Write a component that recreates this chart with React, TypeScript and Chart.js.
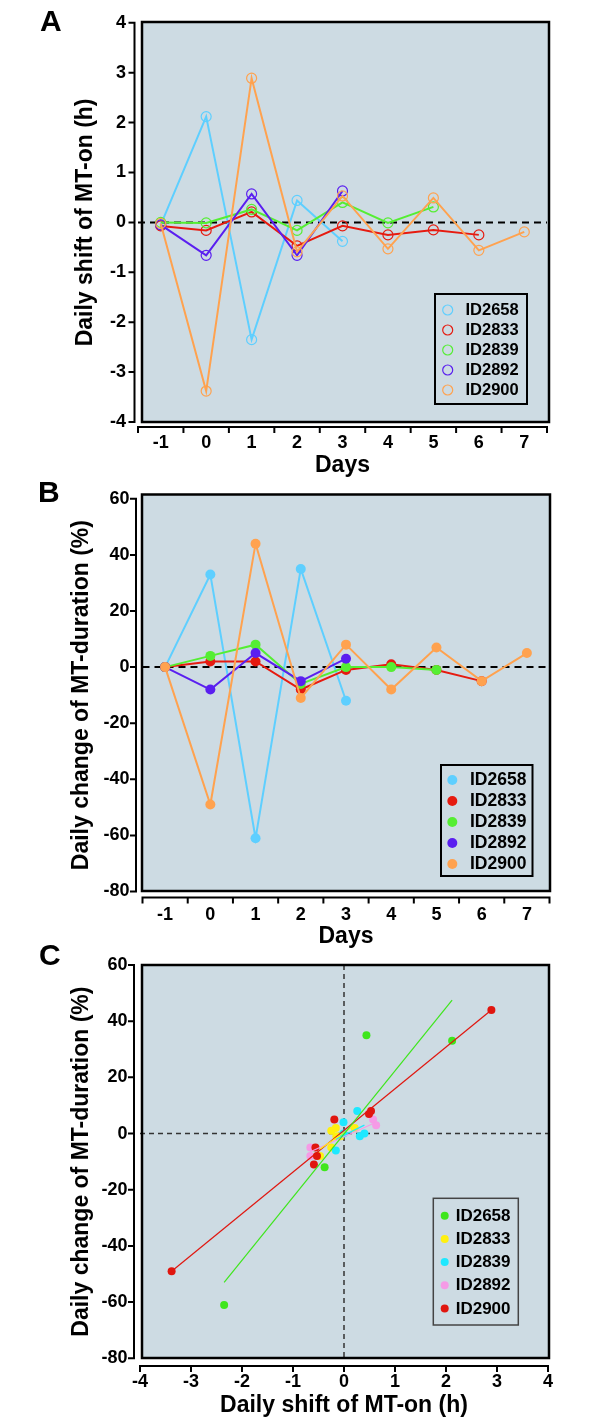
import React, { useEffect, useRef } from "react";
import { Chart, registerables } from "chart.js";

Chart.register(...registerables);

// ---------------- data ----------------
const days = ["-1", "0", "1", "2", "3", "4", "5", "6", "7"];
const subjects = ["ID2658", "ID2833", "ID2839", "ID2892", "ID2900"];

// Panel A: daily shift of MT-on (h), day -1 onwards
const shift2658 = [-0.05, 2.12, -2.35, 0.44, -0.38];
const shift2833 = [-0.07, -0.16, 0.21, -0.47, -0.07, -0.25, -0.15, -0.25];
const shift2839 = [0.0, -0.01, 0.26, -0.16, 0.4, -0.01, 0.31];
const shift2892 = [-0.05, -0.66, 0.57, -0.66, 0.63];
const shift2900 = [-0.02, -3.38, 2.89, -0.59, 0.53, -0.53, 0.49, -0.56, -0.19];

// Panel B: daily change of MT-duration (%), day -1 onwards
const change2658 = [0, 33, -61, 35, -12];
const change2833 = [0, 2, 2, -8, -1, 1, -1, -5];
const change2839 = [0, 4, 8, -6, 0, 0, -1];
const change2892 = [0, -8, 5, -5, 3];
const change2900 = [0, -49, 44, -11, 8, -8, 7, -5, 5];

// Panel C: regression line end points (shift h, change %)
const fitX2658 = [-2.35, 2.12];
const fitY2658 = [-53, 47.5];
const fitX2833 = [-0.47, 0.21];
const fitY2833 = [-5.5, 3];
const fitX2839 = [-0.16, 0.4];
const fitY2839 = [-2, 3];
const fitX2892 = [-0.66, 0.63];
const fitY2892 = [-6.5, 4];
const fitX2900 = [-3.38, 2.89];
const fitY2900 = [-49, 44];

// axis ranges
const shiftRange = [-4, 4];
const shiftStep = 1;
const changeRange = [-80, 60];
const changeStep = 20;

// ---------------- styles ----------------
const FONT = "'Liberation Sans', Arial, Helvetica, sans-serif";
const BG = "#cddbe3";
const colorsAB = ["#5ecfff", "#e61b10", "#55ee33", "#5a1ff0", "#ffa24f"];
const colorsC = ["#3ee61c", "#fff010", "#1ee8ff", "#f59be6", "#e0160f"];

const shiftSeries = [shift2658, shift2833, shift2839, shift2892, shift2900];
const changeSeries = [change2658, change2833, change2839, change2892, change2900];
const fitXs = [fitX2658, fitX2833, fitX2839, fitX2892, fitX2900];
const fitYs = [fitY2658, fitY2833, fitY2839, fitY2892, fitY2900];

type Box = { left: number; right: number; top: number; bottom: number };
type Panel = {
  letter: string;
  letterX: number;
  letterBaseline: number;
  canvasTop: number;
  canvasHeight: number;
  area: Box;
  box: Box;
  yAxisX: number;
  xAxisY: number;
  yLabelRight: number;
  xLabelY: number;
  yTitleX: number;
  xTitleY: number;
  xTitle: string;
  yTitle: string;
  kind: "A" | "B" | "C";
  legend: {
    box: Box;
    row0: number;
    step: number;
    markerX: number;
    textX: number;
    r: number;
    hollow: boolean;
    fontSize: number;
    borderWidth: number;
    borderColor: string;
    colors: string[];
  };
  zero: { color: string; width: number; dash: number[]; vertical: boolean };
  boxWidth: number;
};

const panels: Panel[] = [
  {
    kind: "A",
    letter: "A",
    letterX: 40,
    letterBaseline: 31,
    canvasTop: 0,
    canvasHeight: 480,
    area: { left: 138, right: 547, top: 22, bottom: 422 },
    box: { left: 142, right: 549, top: 22, bottom: 422 },
    yAxisX: 134.5,
    xAxisY: 427,
    yLabelRight: 126,
    xLabelY: 443.5,
    yTitleX: 86,
    xTitleY: 465.5,
    xTitle: "Days",
    yTitle: "Daily shift of MT-on (h)",
    legend: {
      box: { left: 435, right: 527, top: 294, bottom: 404 },
      row0: 310,
      step: 20,
      markerX: 447.7,
      textX: 465.5,
      r: 5,
      hollow: true,
      fontSize: 16.5,
      borderWidth: 2,
      borderColor: "#000",
      colors: colorsAB,
    },
    zero: { color: "#000", width: 2, dash: [7, 5], vertical: false },
    boxWidth: 2.5,
  },
  {
    kind: "B",
    letter: "B",
    letterX: 38,
    letterBaseline: 501.5,
    canvasTop: 475,
    canvasHeight: 480,
    area: { left: 142.5, right: 549.5, top: 494.5, bottom: 891.5 },
    box: { left: 142, right: 550, top: 494.5, bottom: 891 },
    yAxisX: 136,
    xAxisY: 897.5,
    yLabelRight: 129.5,
    xLabelY: 915,
    yTitleX: 81.7,
    xTitleY: 937,
    xTitle: "Days",
    yTitle: "Daily change of MT-duration (%)",
    legend: {
      box: { left: 441, right: 532.5, top: 765, bottom: 876 },
      row0: 780,
      step: 21,
      markerX: 452.3,
      textX: 470,
      r: 5,
      hollow: false,
      fontSize: 17.5,
      borderWidth: 2,
      borderColor: "#000",
      colors: colorsAB,
    },
    zero: { color: "#000", width: 2, dash: [7, 5], vertical: false },
    boxWidth: 2.5,
  },
  {
    kind: "C",
    letter: "C",
    letterX: 39,
    letterBaseline: 965,
    canvasTop: 930,
    canvasHeight: 493,
    area: { left: 140, right: 548, top: 965, bottom: 1358.3 },
    box: { left: 142, right: 549, top: 965, bottom: 1358 },
    yAxisX: 134,
    xAxisY: 1366,
    yLabelRight: 127.5,
    xLabelY: 1381.7,
    yTitleX: 81.5,
    xTitleY: 1405.5,
    xTitle: "Daily shift of MT-on (h)",
    yTitle: "Daily change of MT-duration (%)",
    legend: {
      box: { left: 433.3, right: 518.3, top: 1198.3, bottom: 1325 },
      row0: 1215.7,
      step: 23.2,
      markerX: 444.7,
      textX: 455.7,
      r: 4,
      hollow: false,
      fontSize: 17,
      borderWidth: 1.5,
      borderColor: "#444",
      colors: colorsC,
    },
    zero: { color: "#333", width: 1.5, dash: [5, 4], vertical: true },
    boxWidth: 2.5,
  },
];

function makePlugin(p: Panel) {
  const T = p.canvasTop;
  return {
    id: "deco" + p.letter,
    beforeDraw(chart: any) {
      const ctx = chart.ctx;
      ctx.save();
      ctx.fillStyle = BG;
      ctx.fillRect(p.box.left, p.box.top - T, p.box.right - p.box.left, p.box.bottom - p.box.top);
      ctx.restore();
    },
    beforeDatasetsDraw(chart: any) {
      const { ctx, chartArea, scales } = chart;
      ctx.save();
      ctx.strokeStyle = p.zero.color;
      ctx.lineWidth = p.zero.width;
      ctx.setLineDash(p.zero.dash);
      const y0 = scales.y.getPixelForValue(0);
      ctx.beginPath();
      ctx.moveTo(chartArea.left, y0);
      ctx.lineTo(chartArea.right, y0);
      ctx.stroke();
      if (p.zero.vertical) {
        const x0 = scales.x.getPixelForValue(0);
        ctx.beginPath();
        ctx.moveTo(x0, chartArea.top);
        ctx.lineTo(x0, chartArea.bottom);
        ctx.stroke();
      }
      ctx.restore();
    },
    afterDatasetsDraw(chart: any) {
      const ctx = chart.ctx;
      const L = p.legend;
      ctx.save();
      ctx.fillStyle = BG;
      ctx.fillRect(L.box.left, L.box.top - T, L.box.right - L.box.left, L.box.bottom - L.box.top);
      ctx.strokeStyle = L.borderColor;
      ctx.lineWidth = L.borderWidth;
      ctx.strokeRect(L.box.left, L.box.top - T, L.box.right - L.box.left, L.box.bottom - L.box.top);
      subjects.forEach((s, i) => {
        const y = L.row0 + i * L.step - T;
        ctx.beginPath();
        ctx.arc(L.markerX, y, L.r, 0, Math.PI * 2);
        if (L.hollow) {
          ctx.strokeStyle = L.colors[i];
          ctx.lineWidth = 1.2;
          ctx.stroke();
        } else {
          ctx.fillStyle = L.colors[i];
          ctx.fill();
        }
        ctx.fillStyle = "#000";
        ctx.font = `bold ${L.fontSize}px ${FONT}`;
        ctx.textBaseline = "middle";
        ctx.textAlign = "left";
        ctx.fillText(s, L.textX, y + 0.5);
      });
      ctx.restore();
    },
    afterDraw(chart: any) {
      const { ctx, chartArea, scales } = chart;
      const xs = scales.x;
      const ys = scales.y;
      ctx.save();
      // plot box border
      ctx.strokeStyle = "#000";
      ctx.lineWidth = p.boxWidth;
      ctx.strokeRect(p.box.left, p.box.top - T, p.box.right - p.box.left, p.box.bottom - p.box.top);
      // y axis
      ctx.lineWidth = 2;
      ctx.lineCap = "square";
      ctx.beginPath();
      ctx.moveTo(p.yAxisX, chartArea.top);
      ctx.lineTo(p.yAxisX, chartArea.bottom);
      ys.ticks.forEach((t: any) => {
        const py = ys.getPixelForValue(t.value);
        ctx.moveTo(p.yAxisX - 5, py);
        ctx.lineTo(p.yAxisX, py);
      });
      ctx.stroke();
      // x axis
      const ay = p.xAxisY - T;
      ctx.beginPath();
      ctx.moveTo(chartArea.left, ay);
      ctx.lineTo(chartArea.right, ay);
      if (p.kind === "C") {
        xs.ticks.forEach((t: any) => {
          const px = xs.getPixelForValue(t.value);
          ctx.moveTo(px, ay);
          ctx.lineTo(px, ay + 5);
        });
      } else {
        const n = xs.ticks.length;
        const w = (xs.right - xs.left) / n;
        for (let k = 0; k <= n; k++) {
          const px = xs.left + k * w;
          ctx.moveTo(px, ay);
          ctx.lineTo(px, ay + 5);
        }
      }
      ctx.stroke();
      // panel letter
      ctx.fillStyle = "#000";
      ctx.font = `bold 30px ${FONT}`;
      ctx.textBaseline = "alphabetic";
      ctx.textAlign = "left";
      ctx.fillText(p.letter, p.letterX, p.letterBaseline - T);
      ctx.restore();
    },
  };
}

function buildConfig(p: Panel): any {
  const T = p.canvasTop;
  const tickFont = { family: FONT, size: 18, weight: "bold", lineHeight: 1.2 };
  const titleFont = { family: FONT, size: 23, weight: "bold", lineHeight: 1.2 };
  const tickLH = 18 * 1.2;
  const titleLH = 23 * 1.2;
  const isC = p.kind === "C";
  const yRange = p.kind === "A" ? shiftRange : changeRange;
  const yStep = p.kind === "A" ? shiftStep : changeStep;

  const scales: any = {
    x: {
      type: isC ? "linear" : "category",
      offset: !isC,
      ...(isC ? { min: shiftRange[0], max: shiftRange[1] } : {}),
      grid: { display: false, drawTicks: false },
      border: { display: false },
      ticks: {
        color: "#000",
        font: tickFont,
        padding: p.xLabelY - p.area.bottom - tickLH / 2,
        autoSkip: false,
        maxRotation: 0,
        minRotation: 0,
        ...(isC ? { stepSize: shiftStep } : {}),
      },
      title: {
        display: true,
        text: p.xTitle,
        color: "#000",
        font: titleFont,
        padding: { top: 0, bottom: T + p.canvasHeight - p.xTitleY - titleLH / 2 },
      },
      afterFit: (s: any) => {
        s.height = T + p.canvasHeight - p.area.bottom;
      },
    },
    y: {
      type: "linear",
      min: yRange[0],
      max: yRange[1],
      grid: { display: false, drawTicks: false },
      border: { display: false },
      ticks: {
        color: "#000",
        font: tickFont,
        stepSize: yStep,
        padding: p.area.left - p.yLabelRight,
        autoSkip: false,
      },
      title: {
        display: true,
        text: p.yTitle,
        color: "#000",
        font: titleFont,
        padding: { top: p.yTitleX - titleLH / 2, bottom: 0 },
      },
      afterFit: (s: any) => {
        s.width = p.area.left;
      },
    },
  };

  let datasets: any[] = [];
  if (p.kind === "A" || p.kind === "B") {
    const series = p.kind === "A" ? shiftSeries : changeSeries;
    datasets = series.map((vals, i) => ({
      label: subjects[i],
      data: vals,
      borderColor: colorsAB[i],
      backgroundColor: colorsAB[i],
      borderWidth: 2,
      pointRadius: 5,
      pointHoverRadius: 5,
      pointStyle: "circle",
      pointBackgroundColor: p.kind === "A" ? "rgba(0,0,0,0)" : colorsAB[i],
      pointBorderColor: colorsAB[i],
      pointBorderWidth: p.kind === "A" ? 1.2 : 0,
      tension: 0,
      order: 4 - i,
    }));
  } else {
    const fits = fitXs.map((fx, i) => ({
      type: "scatter",
      label: subjects[i] + " fit",
      data: fx.map((x, k) => ({ x, y: fitYs[i][k] })),
      showLine: true,
      borderColor: colorsC[i],
      borderWidth: 1.2,
      pointRadius: 0,
      order: 0,
    }));
    const pts = shiftSeries.map((sx, i) => ({
      type: "scatter",
      label: subjects[i],
      data: sx.slice(1).map((x, k) => ({ x, y: changeSeries[i][k + 1] })),
      backgroundColor: colorsC[i],
      borderColor: colorsC[i],
      pointRadius: 4,
      pointHoverRadius: 4,
      pointBorderWidth: 0,
      showLine: false,
      order: 1 + (4 - i),
    }));
    datasets = [...fits, ...pts];
  }

  return {
    type: isC ? "scatter" : "line",
    data: isC ? { datasets } : { labels: days, datasets },
    options: {
      animation: false,
      responsive: false,
      maintainAspectRatio: false,
      devicePixelRatio: 1,
      layout: {
        padding: { left: 0, right: 600 - p.area.right, top: p.area.top - T, bottom: 0 },
      },
      plugins: { legend: { display: false }, tooltip: { enabled: false } },
      scales,
    },
    plugins: [makePlugin(p)],
  };
}

function PanelChart({ panel }: { panel: Panel }) {
  const ref = useRef<HTMLCanvasElement>(null);
  useEffect(() => {
    if (!ref.current) return;
    const chart = new Chart(ref.current, buildConfig(panel));
    return () => chart.destroy();
  }, [panel]);
  return (
    <canvas
      ref={ref}
      width={600}
      height={panel.canvasHeight}
      style={{
        position: "absolute",
        left: 0,
        top: panel.canvasTop,
        width: 600,
        height: panel.canvasHeight,
      }}
    />
  );
}

export default function App() {
  return (
    <div
      style={{
        position: "absolute",
        left: 0,
        top: 0,
        width: 600,
        height: 1423,
        background: "#fff",
        overflow: "hidden",
      }}
    >
      {panels.map((p) => (
        <PanelChart key={p.letter} panel={p} />
      ))}
    </div>
  );
}
